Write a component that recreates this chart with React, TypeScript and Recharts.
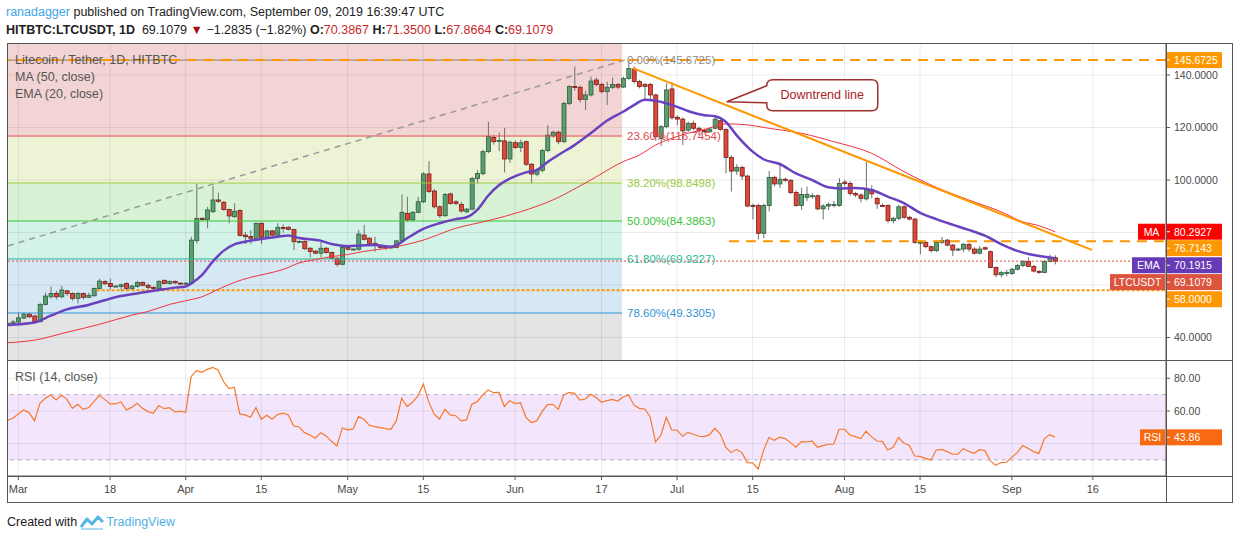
import React from "react";
import {
  ComposedChart,
  Bar,
  Line,
  XAxis,
  YAxis,
  ReferenceLine,
  ReferenceArea,
  ReferenceDot,
} from "recharts";

const FONT = "'Liberation Sans', Arial, sans-serif";

/* ─── Data (day 0 = 1 Mar 2019, first candle = 27 Feb) ─── */
const FIRST_DAY = -2;

const OPEN = [
  45.0, 45.4, 45.9, 47.4, 48.9, 48.2, 46.0, 52.6, 55.5, 56.8,
  55.5, 57.8, 56.8, 54.9, 56.8, 55.3, 55.9, 58.7, 61.3, 60.6,
  59.5, 59.4, 60.6, 58.6, 59.4, 61.0, 59.9, 59.1, 58.6, 61.8,
  60.6, 61.4, 60.7, 60.6, 60.6, 76.9, 85.4, 85.0, 87.9, 92.4,
  91.5, 88.8, 86.0, 88.4, 79.0, 78.5, 77.8, 83.5, 78.2, 80.6,
  79.0, 81.9, 82.0, 81.2, 76.6, 76.6, 74.0, 72.9, 72.1, 74.0,
  72.4, 70.2, 67.9, 74.3, 73.6, 73.6, 79.0, 77.8, 75.9, 75.1,
  74.7, 74.4, 74.3, 76.8, 87.3, 84.8, 87.7, 91.7, 102.3, 95.8,
  89.8, 86.4, 94.7, 91.7, 90.7, 87.9, 88.9, 100.6, 102.4, 110.8,
  116.2, 115.0, 114.9, 108.0, 114.2, 112.4, 114.6, 106.0, 102.2, 103.7,
  111.2, 116.8, 118.2, 114.6, 129.2, 135.6, 135.3, 130.7, 132.4, 138.1,
  136.4, 133.7, 135.3, 136.4, 135.4, 138.7, 142.3, 137.5, 136.4, 136.4,
  132.4, 115.9, 120.3, 134.7, 123.9, 123.2, 119.0, 121.6, 119.7, 119.0,
  118.4, 119.7, 122.6, 119.3, 108.6, 103.4, 104.8, 101.5, 90.3, 90.3,
  79.7, 90.3, 101.0, 98.5, 100.3, 99.9, 95.2, 90.3, 93.4, 93.7,
  94.0, 89.0, 90.1, 90.3, 90.3, 99.2, 98.7, 94.9, 94.3, 92.8,
  96.4, 93.0, 90.3, 90.3, 84.5, 85.4, 89.8, 85.8, 85.1, 76.2,
  76.2, 74.6, 73.1, 76.2, 77.1, 75.2, 73.6, 73.7, 75.5, 73.7,
  72.1, 74.2, 72.7, 66.7, 63.9, 64.7, 64.4, 66.0, 67.4, 69.0,
  67.1, 65.2, 64.8, 69.0, 70.3867,
];

const HIGH = [
  45.8, 46.7, 49.5, 49.5, 49.4, 48.6, 53.2, 57.1, 59.4, 57.8,
  59.6, 58.1, 57.2, 57.3, 57.1, 57.1, 59.1, 62.4, 61.8, 62.4,
  60.0, 60.5, 61.1, 60.0, 61.6, 61.4, 60.6, 59.5, 61.8, 62.0,
  61.7, 61.7, 61.0, 61.0, 78.4, 98.7, 85.8, 89.8, 97.7, 95.2,
  92.0, 89.0, 91.1, 88.8, 80.3, 80.9, 83.8, 83.8, 81.0, 81.0,
  83.5, 83.1, 82.4, 81.4, 77.0, 77.0, 74.4, 73.3, 76.5, 74.4,
  72.8, 70.6, 74.8, 75.2, 74.0, 81.0, 82.9, 78.3, 78.4, 75.5,
  75.0, 75.0, 77.2, 94.5, 93.6, 88.2, 93.6, 103.0, 107.2, 96.5,
  90.4, 95.0, 95.2, 92.3, 91.6, 89.4, 101.2, 103.8, 111.5, 122.2,
  117.0, 118.0, 119.9, 115.0, 115.0, 115.4, 115.0, 106.5, 104.4, 111.8,
  120.9, 118.8, 118.8, 129.8, 136.2, 143.2, 136.0, 134.0, 139.4, 139.0,
  137.0, 137.5, 139.0, 137.0, 139.4, 145.6725, 143.4, 138.2, 137.0, 137.0,
  132.8, 121.0, 136.8, 137.2, 124.6, 123.8, 122.3, 122.6, 120.3, 119.6,
  120.0, 124.6, 123.5, 119.6, 109.4, 106.0, 105.5, 102.0, 91.0, 91.0,
  91.0, 103.5, 101.6, 105.7, 101.0, 100.3, 96.0, 97.0, 97.5, 95.0,
  94.5, 90.8, 91.5, 92.0, 100.7, 100.0, 99.5, 95.5, 94.9, 107.0,
  98.0, 93.5, 91.0, 90.8, 86.0, 90.5, 90.4, 86.4, 85.6, 77.0,
  76.7, 75.0, 76.8, 78.3, 77.6, 75.6, 74.2, 76.0, 76.0, 74.4,
  74.8, 74.6, 73.2, 67.1, 65.3, 65.8, 66.5, 68.0, 69.5, 70.6,
  67.6, 65.7, 69.5, 71.6, 71.35,
];

const LOW = [
  44.7, 45.2, 45.5, 47.0, 47.4, 45.6, 45.8, 52.2, 54.8, 54.5,
  55.0, 55.9, 54.0, 53.0, 54.5, 55.0, 55.6, 58.3, 60.0, 58.3,
  59.2, 57.6, 57.8, 58.2, 59.0, 59.5, 58.3, 58.3, 58.3, 60.3,
  60.2, 60.4, 60.3, 60.2, 60.3, 75.8, 84.5, 81.6, 87.5, 91.4,
  88.3, 83.5, 85.6, 78.5, 75.6, 75.6, 77.2, 75.6, 77.8, 78.6,
  78.6, 79.9, 80.8, 73.3, 76.2, 73.4, 70.5, 71.8, 70.5, 72.0,
  69.8, 67.0, 67.5, 73.2, 73.2, 73.0, 77.0, 75.3, 72.7, 73.8,
  73.4, 73.9, 74.0, 76.4, 84.0, 84.2, 87.3, 91.2, 95.0, 89.2,
  85.5, 86.0, 90.6, 90.5, 87.5, 87.3, 88.5, 98.7, 101.8, 110.2,
  113.5, 111.0, 102.9, 106.5, 111.8, 110.6, 105.4, 98.7, 101.4, 102.9,
  110.6, 116.1, 113.6, 114.0, 128.5, 134.0, 129.5, 126.7, 131.8, 135.6,
  132.9, 128.6, 134.6, 134.7, 135.0, 138.2, 136.8, 134.9, 130.5, 130.0,
  115.0, 113.0, 119.7, 123.0, 120.8, 113.3, 118.3, 119.0, 117.0, 117.8,
  118.0, 119.3, 118.8, 102.6, 95.6, 102.0, 100.0, 89.6, 85.0, 77.3,
  77.8, 88.0, 97.5, 97.0, 99.3, 94.6, 89.8, 88.6, 92.0, 92.9,
  88.4, 85.0, 88.6, 89.6, 89.8, 97.5, 94.0, 93.5, 91.5, 92.2,
  93.0, 89.0, 89.7, 83.5, 83.5, 84.8, 85.2, 84.6, 75.7, 71.7,
  74.0, 72.3, 72.5, 75.6, 74.7, 71.0, 72.9, 72.5, 72.7, 71.6,
  71.7, 73.3, 66.3, 62.9, 63.0, 63.3, 63.9, 65.5, 66.9, 66.8,
  64.8, 64.3, 64.5, 68.6, 67.8664,
];

const CLOSE = [
  45.4, 45.9, 47.5, 48.9, 47.9, 46.0, 52.6, 55.8, 56.8, 55.5,
  58.1, 56.8, 54.9, 56.8, 55.3, 56.1, 58.7, 61.5, 60.5, 59.4,
  59.6, 60.1, 58.7, 59.6, 61.0, 59.9, 59.1, 58.7, 61.4, 60.6,
  61.4, 60.8, 60.6, 60.7, 77.1, 85.4, 84.9, 88.6, 92.4, 91.9,
  88.8, 86.3, 88.1, 78.9, 78.4, 77.8, 83.5, 78.2, 80.6, 79.0,
  82.0, 81.8, 81.2, 76.5, 76.6, 73.8, 72.8, 72.1, 74.0, 72.4,
  70.2, 67.9, 74.3, 73.6, 73.7, 79.4, 77.4, 75.9, 75.1, 74.3,
  74.2, 74.5, 76.8, 87.7, 84.8, 87.7, 91.7, 102.3, 95.6, 89.8,
  86.4, 94.5, 91.1, 91.1, 88.2, 88.9, 100.6, 102.5, 110.8, 116.6,
  114.6, 115.1, 108.0, 114.4, 112.4, 114.2, 106.0, 102.3, 103.7, 111.2,
  117.1, 118.2, 114.6, 129.2, 135.6, 135.2, 130.7, 132.4, 137.7, 136.4,
  133.7, 135.3, 136.4, 135.4, 138.7, 142.5, 137.5, 135.6, 135.6, 132.4,
  116.5, 120.3, 134.3, 123.7, 123.2, 118.7, 121.6, 119.7, 118.7, 118.4,
  119.4, 123.2, 119.3, 108.6, 103.4, 104.8, 101.5, 90.1, 90.2, 79.7,
  90.3, 101.0, 98.5, 100.3, 99.9, 95.2, 90.3, 94.5, 94.5, 94.0,
  89.0, 90.1, 90.7, 90.7, 98.7, 98.7, 94.9, 94.3, 93.0, 96.4,
  94.7, 90.9, 90.2, 84.5, 85.4, 89.8, 85.8, 85.1, 76.2, 76.3,
  74.6, 73.1, 76.2, 76.9, 75.2, 73.3, 73.7, 75.5, 73.7, 72.1,
  73.7, 73.7, 66.7, 63.9, 64.7, 64.8, 66.0, 67.4, 69.0, 67.1,
  65.3, 64.8, 69.0, 70.3, 69.1079,
];

const RSI_14 = [
  54.3, 55.5, 58.2, 60.6, 59.0, 53.9, 64.7, 67.8, 69.8, 66.7,
  69.6, 67.1, 61.6, 64.1, 61.0, 62.0, 65.7, 69.4, 67.1, 64.3,
  64.3, 65.7, 60.6, 62.2, 64.7, 61.6, 59.6, 58.6, 63.3, 61.4,
  62.0, 59.4, 59.8, 59.2, 81.0, 84.7, 83.7, 85.5, 86.7, 85.1,
  78.0, 73.7, 74.5, 58.2, 57.6, 56.1, 62.0, 54.9, 57.3, 54.9,
  57.8, 58.6, 57.6, 50.8, 50.2, 46.7, 45.3, 43.3, 46.7, 44.7,
  41.4, 38.6, 49.6, 48.4, 49.0, 56.5, 54.9, 51.2, 50.4, 49.8,
  49.2, 48.8, 53.9, 67.8, 62.7, 65.3, 69.2, 76.5, 65.7, 58.0,
  55.1, 61.0, 57.6, 57.1, 53.9, 54.5, 64.1, 65.7, 69.8, 72.9,
  71.2, 71.4, 62.7, 66.3, 64.5, 65.1, 56.1, 52.9, 53.9, 59.6,
  63.9, 64.1, 61.0, 69.8, 71.4, 70.8, 66.7, 67.3, 70.2, 68.2,
  65.3, 66.3, 67.1, 66.1, 68.6, 69.8, 63.7, 61.6, 61.2, 56.5,
  41.0, 45.1, 56.1, 48.4, 48.2, 44.5, 46.9, 45.7, 44.5, 44.3,
  45.5, 49.4, 45.9, 37.8, 34.5, 36.5, 34.5, 28.4, 28.2, 24.5,
  35.7, 43.7, 42.0, 43.9, 43.1, 40.6, 37.8, 41.2, 41.0, 41.6,
  37.8, 38.8, 39.6, 39.6, 48.8, 48.8, 45.3, 44.3, 43.1, 47.6,
  44.3, 41.6, 41.4, 36.1, 37.8, 43.7, 40.4, 38.8, 32.4, 32.2,
  31.0, 30.0, 36.1, 36.5, 35.1, 33.5, 33.5, 36.9, 35.3, 34.1,
  36.3, 35.7, 29.6, 26.7, 28.4, 28.6, 31.6, 34.5, 38.8, 37.1,
  35.1, 33.9, 42.9, 45.5, 43.86,
];

// moving averages at sample days
const MA_DAYS = [
  -2, 3, 9, 15, 21, 24, 28, 31, 34, 37, 40, 43, 46, 49, 52, 55, 58, 61, 64, 69,
  75, 81, 87, 93, 99, 106, 112, 115, 118, 121, 124, 127, 131, 135, 139, 145, 151,
  158, 164, 170, 176, 182, 186, 189, 192,
];
const MA_VALUES = [
  38.0, 39.0, 42.0, 45.0, 48.5, 49.9, 52.6, 54.0, 55.5, 58.3, 61.0, 62.9, 64.3,
  65.9, 68.4, 69.7, 70.8, 71.6, 72.8, 74.2, 77.1, 81.6, 84.5, 87.9, 92.4, 100.0,
  107.0, 109.5, 113.3, 115.9, 117.8, 119.2, 121.4, 121.0, 119.7, 117.8, 114.6,
  110.2, 103.2, 97.2, 92.4, 87.9, 84.1, 82.6, 80.2927,
];
const EMA_DAYS = [
  -2, 3, 6, 9, 13, 16, 19, 22, 26, 29, 31, 32, 34, 36, 38, 40, 42, 45, 48, 50,
  52, 56, 58, 61, 63, 66, 69, 70, 72, 75, 78, 81, 83, 85, 87, 89, 91, 94, 96, 98,
  100, 103, 106, 109, 112, 114, 116, 118, 121, 124, 127, 129, 131, 133, 136, 138,
  141, 144, 147, 150, 152, 155, 158, 161, 164, 167, 170, 173, 176, 179, 182, 185,
  188, 190, 192,
];
const EMA_VALUES = [
  44.8, 45.7, 48.3, 50.7, 52.4, 54.2, 55.8, 56.8, 58.1, 59.0, 59.4, 60.6, 63.8,
  68.9, 73.0, 75.5, 76.5, 77.5, 78.4, 78.9, 77.9, 76.9, 75.6, 74.8, 75.0, 75.2,
  74.6, 75.2, 77.8, 81.4, 83.5, 85.1, 85.8, 88.6, 94.0, 98.0, 100.5, 102.9, 103.8,
  106.8, 109.5, 113.3, 117.8, 122.6, 126.0, 128.5, 130.6, 130.2, 128.6, 126.3,
  124.7, 124.3, 122.2, 117.1, 110.8, 107.9, 106.1, 102.5, 100.0, 97.2, 96.8, 97.0,
  96.2, 93.7, 91.2, 87.5, 85.1, 83.0, 81.0, 78.8, 75.6, 73.0, 71.4, 70.8, 70.1915,
];

const DATE_TICKS = [0, 17, 31, 45, 61, 75, 92, 108, 122, 136, 153, 167, 184, 199];
const DATE_LABELS = ["Mar", "18", "Apr", "15", "May", "15", "Jun", "17", "Jul", "15", "Aug", "15", "Sep", "16"];

const PRICE_GRID = [40, 60, 80, 100, 120, 140];
const PRICE_LABELS = [40, 100, 120, 140];
const RSI_GRID = [40, 60, 80];
const RSI_LABELS = [60, 80];

const FIB_PCT = ["0.00", "23.60", "38.20", "50.00", "61.80", "78.60"];
const FIB_PRICE = [145.6725, 116.7454, 98.8498, 84.3863, 69.9227, 49.3305];
const FIB_BOTTOM = 23.09;
const FIB_END_DAY = 111.8;
const FIB_DIAGONAL = [{ day: -1.9, price: 74.9 }, { day: 112.3, price: 145.6725 }];
const TREND_LINE = [{ day: 113.8, price: 142.6 }, { day: 198.8, price: 73.4 }];
const RESISTANCE = 76.7143;
const RESISTANCE_FROM = 131.6;
const SUPPORT = 58.0;
const SUPPORT_FROM = 14.5;
const CALLOUT_AT = { day: 131.2, price: 129.8 };

// visible axis ranges
const X_MIN = -1.907;
const X_MAX = 212.54;
const PRICE_MIN = 31.43;
const PRICE_MAX = 152.19;
const RSI_MIN = 20.17;
const RSI_MAX = 90.59;

/* ─── Styling ─── */
const FIB_FILL = ["#f3d4d4", "#edf4d6", "#d8f2d6", "#d4f3e8", "#d5e8f4", "#e4e4e4"];
const FIB_LINE = ["#808080", "#e5484d", "#a1cd3f", "#35c435", "#24b795", "#2b95d6"];
const FIB_TEXT = ["#8a8a8a", "#e0464b", "#9dc73c", "#38c238", "#2bb898", "#3394d4"];
const ORANGE = "#ff9800";
const GRID = "rgba(0,0,0,0.08)";
const AXIS = "#555";

const maAt = new Map(MA_DAYS.map((d, i) => [d, MA_VALUES[i]]));
const emaAt = new Map(EMA_DAYS.map((d, i) => [d, EMA_VALUES[i]]));

const priceRows = OPEN.map((open, i) => {
  const day = FIRST_DAY + i;
  return {
    day,
    open,
    high: HIGH[i],
    low: LOW[i],
    close: CLOSE[i],
    ma: maAt.get(day) ?? null,
    ema: emaAt.get(day) ?? null,
  };
});
const rsiRows = RSI_14.map((rsi, i) => ({ day: FIRST_DAY + i, rsi }));

const LAST_CLOSE = CLOSE[CLOSE.length - 1];
const MA_LAST = MA_VALUES[MA_VALUES.length - 1];
const EMA_LAST = EMA_VALUES[EMA_VALUES.length - 1];
const RSI_LAST = RSI_14[RSI_14.length - 1];

/* ─── Shapes ─── */
function Candle(props: any) {
  const { x, y, width, height, payload } = props;
  if (!payload || x == null || y == null) return null;
  const { open, close, high, low } = payload;
  const top = Math.min(y, y + height);
  const h = Math.abs(height);
  const k = high > low ? h / (high - low) : 0;
  const py = (v: number) => top + (high - v) * k;
  const cx = x + width / 2;
  const up = close >= open;
  const bTop = py(Math.max(open, close));
  const bH = Math.max(1, py(Math.min(open, close)) - bTop);
  return (
    <g>
      <line x1={cx} x2={cx} y1={top} y2={top + h} stroke="#707070" strokeWidth={1} />
      <rect
        x={cx - 2}
        y={bTop}
        width={4}
        height={bH}
        fill={up ? "#5b9e72" : "#d9493c"}
        stroke={up ? "#2c5d3c" : "#7c1c14"}
        strokeWidth={0.8}
      />
    </g>
  );
}

function makeTag(text: string, bg: string, shift: number, name?: string, nameW = 0) {
  return (p: any) => {
    const x = p.cx;
    const y = p.cy + shift;
    return (
      <g>
        {name && <rect x={x - nameW - 1} y={y - 8} width={nameW} height={16} fill={bg} />}
        {name && (
          <text x={x - 1 - nameW / 2} y={y + 4} textAnchor="middle" fill="#fff" fontSize={10.5} fontFamily={FONT}>
            {name}
          </text>
        )}
        <rect x={x} y={y - 8} width={56} height={16} fill={bg} />
        <line x1={x} x2={x + 4} y1={y} y2={y} stroke="#fff" />
        <text x={x + 8} y={y + 4} fill="#fff" fontSize={10.5} fontFamily={FONT}>
          {text}
        </text>
      </g>
    );
  };
}

function Callout(p: any) {
  const { cx, cy } = p;
  const L = cx + 40, R = cx + 151, T = cy - 22, B = cy + 9, r = 6;
  const d = `M${L + r},${T} H${R - r} Q${R},${T} ${R},${T + r} V${B - r} Q${R},${B} ${R - r},${B} H${L + r} Q${L},${B} ${L},${B - r} V${cy + 1} L${cx},${cy} L${L},${T + r} Q${L},${T} ${L + r},${T} Z`;
  return (
    <g>
      <path d={d} fill="#fff" stroke="#a13030" strokeWidth={1.5} />
      <text x={(L + R) / 2} y={(T + B) / 2 + 4} textAnchor="middle" fill="#a82424" fontSize={12.5} fontFamily={FONT}>
        Downtrend line
      </text>
    </g>
  );
}

const tickStyle = { fontSize: 10.5, fill: "#4a4a4a", fontFamily: FONT };

export default function App() {
  return (
    <div style={{ position: "absolute", left: 0, top: 0, width: 1234, height: 540, background: "#fff", fontFamily: FONT }}>
      {/* header */}
      <div style={{ position: "absolute", left: 6, top: 5, fontSize: 12.5, color: "#222", whiteSpace: "nowrap" }}>
        <span style={{ color: "#3ea6e8" }}>ranadagger</span> published on TradingView.com, September 09, 2019 16:39:47 UTC
      </div>
      <div style={{ position: "absolute", left: 6, top: 23, fontSize: 12.5, color: "#222", whiteSpace: "nowrap" }}>
        <b>HITBTC:LTCUSDT, 1D</b>&nbsp; 69.1079 <span style={{ color: "#a31212" }}>▼</span> −1.2835 (−1.82%){" "}
        <b>O:</b><span style={{ color: "#c62828" }}>70.3867</span> <b>H:</b>
        <span style={{ color: "#c62828" }}>71.3500</span> <b>L:</b>
        <span style={{ color: "#c62828" }}>67.8664</span> <b>C:</b>
        <span style={{ color: "#c62828" }}>69.1079</span>
      </div>

      {/* price pane */}
      <div style={{ position: "absolute", left: 0, top: 43 }}>
        <ComposedChart
          width={1234}
          height={317}
          data={priceRows}
          margin={{ top: 0, right: 2, bottom: 0, left: 8 }}
          style={{ fontFamily: FONT }}
        >
          <XAxis dataKey="day" type="number" domain={[X_MIN, X_MAX]} allowDataOverflow hide />
          <YAxis
            orientation="right"
            width={66}
            type="number"
            domain={[PRICE_MIN, PRICE_MAX]}
            allowDataOverflow
            ticks={PRICE_LABELS}
            interval={0}
            tickFormatter={(v: number) => v.toFixed(4)}
            tick={tickStyle}
            tickSize={4}
            tickMargin={4}
            axisLine={{ stroke: AXIS }}
            tickLine={{ stroke: AXIS }}
          />

          {/* fibonacci zones */}
          {FIB_FILL.map((fill, i) => (
            <ReferenceArea
              key={`z${i}`}
              x1={X_MIN}
              x2={FIB_END_DAY}
              y1={i === FIB_FILL.length - 1 ? FIB_BOTTOM : FIB_PRICE[i + 1]}
              y2={i === 0 ? PRICE_MAX + 10 : FIB_PRICE[i]}
              fill={fill}
              fillOpacity={1}
              stroke="none"
              ifOverflow="hidden"
            />
          ))}

          {/* grid */}
          {PRICE_GRID.map((v) => (
            <ReferenceLine key={`h${v}`} y={v} stroke={GRID} ifOverflow="visible" />
          ))}
          {DATE_TICKS.map((d) => (
            <ReferenceLine key={`v${d}`} x={d} stroke={GRID} ifOverflow="visible" />
          ))}

          {/* fib levels */}
          {FIB_PRICE.map((lvl, i) => (
            <ReferenceLine
              key={`f${i}`}
              segment={[{ x: X_MIN, y: lvl }, { x: FIB_END_DAY, y: lvl }]}
              stroke={FIB_LINE[i]}
              strokeWidth={1}
              ifOverflow="visible"
              label={{
                value: `${FIB_PCT[i]}%(${lvl.toFixed(4)})`,
                position: "right",
                fill: FIB_TEXT[i],
                fontSize: 11.5,
                fontFamily: FONT,
              }}
            />
          ))}
          <ReferenceLine
            segment={[
              { x: FIB_DIAGONAL[0].day, y: FIB_DIAGONAL[0].price },
              { x: FIB_DIAGONAL[1].day, y: FIB_DIAGONAL[1].price },
            ]}
            stroke="#999"
            strokeWidth={1.5}
            strokeDasharray="6 5"
            ifOverflow="visible"
          />

          {/* horizontal levels */}
          <ReferenceLine y={FIB_PRICE[0]} stroke={ORANGE} strokeWidth={2} strokeDasharray="10 7" ifOverflow="visible" />
          <ReferenceLine
            segment={[{ x: RESISTANCE_FROM, y: RESISTANCE }, { x: X_MAX, y: RESISTANCE }]}
            stroke={ORANGE}
            strokeWidth={2}
            strokeDasharray="10 7"
            ifOverflow="visible"
          />
          <ReferenceLine
            segment={[{ x: SUPPORT_FROM, y: SUPPORT }, { x: X_MAX, y: SUPPORT }]}
            stroke={ORANGE}
            strokeWidth={2}
            strokeDasharray="3 2"
            ifOverflow="visible"
          />
          <ReferenceLine y={LAST_CLOSE} stroke="#e8473a" strokeDasharray="2 2" ifOverflow="visible" />

          <Bar dataKey={(r: any) => [r.low, r.high]} barSize={4} shape={Candle} isAnimationActive={false} />
          <Line
            dataKey="ma"
            type="monotone"
            stroke="#f0323c"
            strokeWidth={1}
            dot={false}
            connectNulls
            isAnimationActive={false}
          />
          <Line
            dataKey="ema"
            type="monotone"
            stroke="#6a42c0"
            strokeWidth={2.5}
            dot={false}
            connectNulls
            isAnimationActive={false}
          />

          <ReferenceLine
            segment={[
              { x: TREND_LINE[0].day, y: TREND_LINE[0].price },
              { x: TREND_LINE[1].day, y: TREND_LINE[1].price },
            ]}
            stroke={ORANGE}
            strokeWidth={2}
            ifOverflow="visible"
          />
          <ReferenceDot x={CALLOUT_AT.day} y={CALLOUT_AT.price} r={0} ifOverflow="visible" shape={Callout} />

          {/* axis tags */}
          <ReferenceDot x={X_MAX} y={FIB_PRICE[0]} r={0} ifOverflow="visible" shape={makeTag("145.6725", ORANGE, 0)} />
          <ReferenceDot x={X_MAX} y={MA_LAST} r={0} ifOverflow="visible" shape={makeTag(MA_LAST.toFixed(4), "#ff0000", 0, "MA", 27)} />
          <ReferenceDot x={X_MAX} y={RESISTANCE} r={0} ifOverflow="visible" shape={makeTag(RESISTANCE.toFixed(4), ORANGE, 7)} />
          <ReferenceDot x={X_MAX} y={EMA_LAST} r={0} ifOverflow="visible" shape={makeTag(EMA_LAST.toFixed(4), "#673ab7", 7, "EMA", 33)} />
          <ReferenceDot x={X_MAX} y={LAST_CLOSE} r={0} ifOverflow="visible" shape={makeTag(LAST_CLOSE.toFixed(4), "#dc533e", 21, "LTCUSDT", 55)} />
          <ReferenceDot x={X_MAX} y={SUPPORT} r={0} ifOverflow="visible" shape={makeTag(SUPPORT.toFixed(4), ORANGE, 9)} />
        </ComposedChart>
      </div>

      {/* RSI pane */}
      <div style={{ position: "absolute", left: 0, top: 361 }}>
        <ComposedChart
          width={1234}
          height={141}
          data={rsiRows}
          margin={{ top: 0, right: 2, bottom: 0, left: 8 }}
          style={{ fontFamily: FONT }}
        >
          <XAxis
            dataKey="day"
            type="number"
            domain={[X_MIN, X_MAX]}
            allowDataOverflow
            ticks={DATE_TICKS}
            interval={0}
            tickFormatter={(v: number) => DATE_LABELS[DATE_TICKS.indexOf(v)]}
            tick={{ ...tickStyle, fontSize: 11 }}
            height={26}
            tickSize={4}
            tickMargin={5}
            axisLine={{ stroke: AXIS }}
            tickLine={{ stroke: AXIS }}
          />
          <YAxis
            orientation="right"
            width={66}
            type="number"
            domain={[RSI_MIN, RSI_MAX]}
            allowDataOverflow
            ticks={RSI_LABELS}
            interval={0}
            tickFormatter={(v: number) => v.toFixed(2)}
            tick={tickStyle}
            tickSize={4}
            tickMargin={4}
            axisLine={{ stroke: AXIS }}
            tickLine={{ stroke: AXIS }}
          />
          <ReferenceArea y1={30} y2={70} fill="#f3e6fc" fillOpacity={1} stroke="none" ifOverflow="visible" />
          {RSI_GRID.map((v) => (
            <ReferenceLine key={`rh${v}`} y={v} stroke={GRID} ifOverflow="visible" />
          ))}
          {DATE_TICKS.map((d) => (
            <ReferenceLine key={`rv${d}`} x={d} stroke={GRID} ifOverflow="visible" />
          ))}
          <ReferenceLine y={70} stroke="#b8b0c4" strokeDasharray="4 4" ifOverflow="visible" />
          <ReferenceLine y={30} stroke="#b8b0c4" strokeDasharray="4 4" ifOverflow="visible" />
          <Line
            dataKey="rsi"
            type="linear"
            stroke="#f7782b"
            strokeWidth={1.2}
            dot={false}
            isAnimationActive={false}
          />
          <ReferenceDot x={X_MAX} y={RSI_LAST} r={0} ifOverflow="visible" shape={makeTag(RSI_LAST.toFixed(2), "#f86a12", 0, "RSI", 25)} />
        </ComposedChart>
      </div>

      {/* pane captions */}
      <div style={{ position: "absolute", left: 15, top: 52, fontSize: 12.5, color: "#555", lineHeight: "17px", whiteSpace: "nowrap" }}>
        <div>Litecoin / Tether, 1D, HITBTC</div>
        <div>MA (50, close)</div>
        <div>EMA (20, close)</div>
      </div>
      <div style={{ position: "absolute", left: 15, top: 370, fontSize: 12.5, color: "#555", whiteSpace: "nowrap" }}>
        RSI (14, close)
      </div>

      {/* frame */}
      <svg width={1234} height={540} style={{ position: "absolute", left: 0, top: 0, pointerEvents: "none" }}>
        <rect x={7.5} y={43.5} width={1225} height={459} fill="none" stroke={AXIS} />
        <line x1={7} x2={1233} y1={360.5} y2={360.5} stroke={AXIS} />
        <line x1={7} x2={1233} y1={476.5} y2={476.5} stroke={AXIS} />
        <line x1={1166.5} x2={1166.5} y1={43} y2={503} stroke={AXIS} />
      </svg>

      {/* footer */}
      <div style={{ position: "absolute", left: 7, top: 514, fontSize: 12.5, color: "#222", whiteSpace: "nowrap", display: "flex", alignItems: "center" }}>
        <span>Created with</span>
        <svg width={24} height={16} style={{ margin: "0 2px 0 3px" }}>
          <path d="M1 13 L7 5 L12 10 L18 3 L23 8" fill="none" stroke="#58b6e6" strokeWidth={3} strokeLinejoin="round" />
          <path d="M1 15 H23" stroke="#a9daf3" strokeWidth={2} />
        </svg>
        <span style={{ color: "#4fb0e3" }}>TradingView</span>
      </div>
    </div>
  );
}
